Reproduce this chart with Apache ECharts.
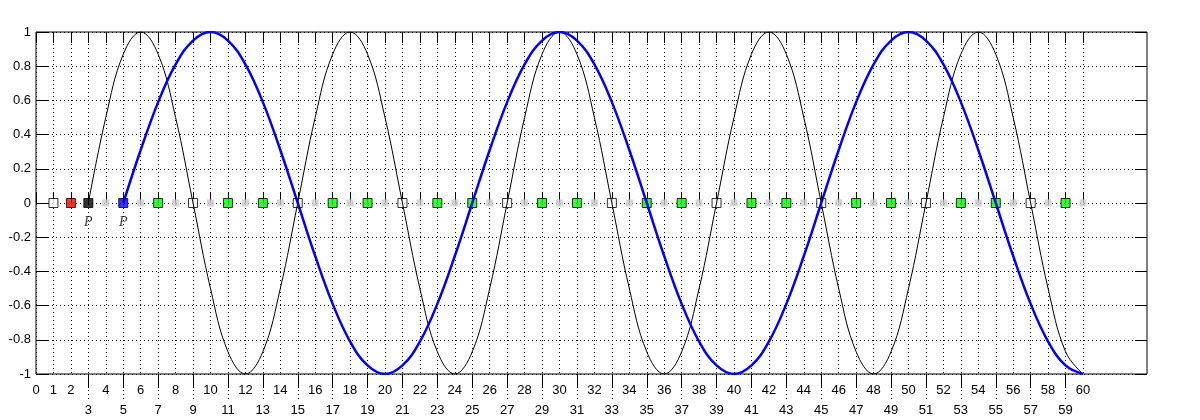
<!DOCTYPE html>
<html>
<head>
<meta charset="utf-8">
<script src="https://cdn.jsdelivr.net/npm/echarts@6/dist/echarts.min.js"></script>
<style>
  html, body { margin: 0; padding: 0; background: #fff; }
  #chart { width: 1200px; height: 420px; }
</style>
</head>
<body>
<div id="chart"></div>
<script>
// black curve, one value per unit x starting at x = 3
const blackStart = 3;
const blackValues = [
  0, 0.5, 0.87, 1, 0.87, 0.5, 0, -0.5, -0.87, -1, -0.87, -0.5,
  0, 0.5, 0.87, 1, 0.87, 0.5, 0, -0.5, -0.87, -1, -0.87, -0.5,
  0, 0.5, 0.87, 1, 0.87, 0.5, 0, -0.5, -0.87, -1, -0.87, -0.5,
  0, 0.5, 0.87, 1, 0.87, 0.5, 0, -0.5, -0.87, -1, -0.87, -0.5,
  0, 0.5, 0.87, 1, 0.87, 0.5, 0, -0.5, -0.87, -1
];
// blue curve, one value per unit x starting at x = 5
const blueStart = 5;
const blueValues = [
  0, 0.31, 0.59, 0.81, 0.95, 1, 0.95, 0.81, 0.59, 0.31,
  0, -0.31, -0.59, -0.81, -0.95, -1, -0.95, -0.81, -0.59, -0.31,
  0, 0.31, 0.59, 0.81, 0.95, 1, 0.95, 0.81, 0.59, 0.31,
  0, -0.31, -0.59, -0.81, -0.95, -1, -0.95, -0.81, -0.59, -0.31,
  0, 0.31, 0.59, 0.81, 0.95, 1, 0.95, 0.81, 0.59, 0.31,
  0, -0.31, -0.59, -0.81, -0.95, -1
];
// markers on the zero line
const openX = [1, 9, 15, 21, 27, 33, 39, 45, 51, 57];
const redX = [2];
const blackX = [3];
const blueX = [5];
const greenX = [7, 11, 13, 17, 19, 23, 25, 29, 31, 35, 37, 41, 43, 47, 49, 53, 55, 59];
const grayX = [4, 6, 8, 10, 12, 14, 16, 18, 20, 22, 24, 26, 28, 30, 32, 34, 36, 38, 40,
  42, 44, 46, 48, 50, 52, 54, 56, 58, 60];
// x tick labels, split in two rows
const topRowTicks = [0, 1, 2, 4, 6, 8, 10, 12, 14, 16, 18, 20, 22, 24, 26, 28, 30, 32, 34,
  36, 38, 40, 42, 44, 46, 48, 50, 52, 54, 56, 58, 60];
const bottomRowTicks = [3, 5, 7, 9, 11, 13, 15, 17, 19, 21, 23, 25, 27, 29, 31, 33, 35, 37,
  39, 41, 43, 45, 47, 49, 51, 53, 55, 57, 59];

const font = { color: '#000', fontFamily: 'Liberation Sans', fontSize: 13 };
const dotted = { color: '#000', width: 1, type: [1, 3] };

const toPairs = (start, vals) => vals.map((v, i) => [start + i, v]);
const onZero = (xs) => xs.map((x) => [x, 0]);

const marker = (name, xs, color, extra) => Object.assign({
  name,
  type: 'scatter',
  xAxisIndex: 1,
  yAxisIndex: 2,
  symbol: 'rect',
  symbolSize: 9,
  itemStyle: { color, borderColor: '#000', borderWidth: 1 },
  data: onZero(xs),
}, extra || {});

const pLabel = {
  show: true,
  position: 'bottom',
  distance: 7,
  formatter: 'P',
  color: '#000',
  fontFamily: 'Liberation Serif',
  fontStyle: 'italic',
  fontSize: 14,
};

const myChart = echarts.init(document.getElementById('chart'));
myChart.setOption({
  animation: false,
  backgroundColor: '#fff',
  grid: [
    { left: 36, right: 53, top: 32, bottom: 46, show: true, borderColor: '#000', borderWidth: 1 },
    { left: 36, width: 1047, top: 32, bottom: 46 },
  ],
  xAxis: [
    { gridIndex: 0, type: 'value', min: 0, max: 1, show: false },
    {
      gridIndex: 1, type: 'value', min: 0, max: 60, interval: 1, position: 'bottom',
      axisLine: { show: false },
      axisTick: { inside: true, length: 11, lineStyle: { color: '#000' } },
      splitLine: { show: true, lineStyle: dotted },
      axisLabel: Object.assign({ customValues: topRowTicks, margin: 10 }, font),
    },
    {
      gridIndex: 1, type: 'value', min: 0, max: 60, interval: 1, position: 'top',
      axisLine: { show: false },
      axisTick: { inside: true, length: 11, lineStyle: { color: '#000' } },
      splitLine: { show: false },
      axisLabel: { show: false },
    },
    {
      gridIndex: 1, type: 'value', min: 0, max: 60, position: 'bottom',
      axisLine: { show: false },
      axisTick: { customValues: bottomRowTicks, length: 26, lineStyle: dotted },
      splitLine: { show: false },
      axisLabel: { show: false },
    },
    {
      gridIndex: 1, type: 'value', min: 0, max: 60, position: 'bottom',
      axisLine: { show: false },
      axisTick: { customValues: bottomRowTicks, length: 14, lineStyle: { color: '#000' } },
      splitLine: { show: false },
      axisLabel: Object.assign({ customValues: bottomRowTicks, margin: 30 }, font),
    },
  ],
  yAxis: [
    {
      gridIndex: 0, type: 'value', min: -1, max: 1, interval: 0.2, position: 'left',
      axisLine: { show: false },
      axisTick: { inside: true, length: 12, lineStyle: { color: '#000' } },
      splitLine: { show: true, lineStyle: dotted },
      axisLabel: Object.assign({ margin: 5, formatter: (v) => String(+v.toFixed(1)) }, font),
    },
    {
      gridIndex: 0, type: 'value', min: -1, max: 1, interval: 0.2, position: 'right',
      axisLine: { show: false },
      axisTick: { inside: true, length: 12, lineStyle: { color: '#000' } },
      splitLine: { show: false },
      axisLabel: { show: false },
    },
    { gridIndex: 1, type: 'value', min: -1, max: 1, show: false },
  ],
  series: [
    {
      name: 'gray',
      type: 'scatter',
      xAxisIndex: 1,
      yAxisIndex: 2,
      symbol: 'rect',
      symbolSize: 7,
      itemStyle: { color: '#cccccc' },
      data: onZero(grayX),
    },
    marker('open', openX, '#ffffff'),
    marker('green', greenX, '#00ff00'),
    marker('red', redX, '#ff0000'),
    marker('black', blackX, '#000000', { label: pLabel }),
    marker('blue', blueX, '#0000ff', { label: pLabel }),
    {
      name: 'blackCurve',
      type: 'line',
      xAxisIndex: 1,
      yAxisIndex: 2,
      symbol: 'none',
      smooth: 0.4,
      lineStyle: { color: '#000', width: 1 },
      data: toPairs(blackStart, blackValues),
    },
    {
      name: 'blueCurve',
      type: 'line',
      xAxisIndex: 1,
      yAxisIndex: 2,
      symbol: 'none',
      smooth: 0.4,
      lineStyle: { color: '#0000ff', width: 2.5 },
      data: toPairs(blueStart, blueValues),
    },
  ],
});
</script>
</body>
</html>
